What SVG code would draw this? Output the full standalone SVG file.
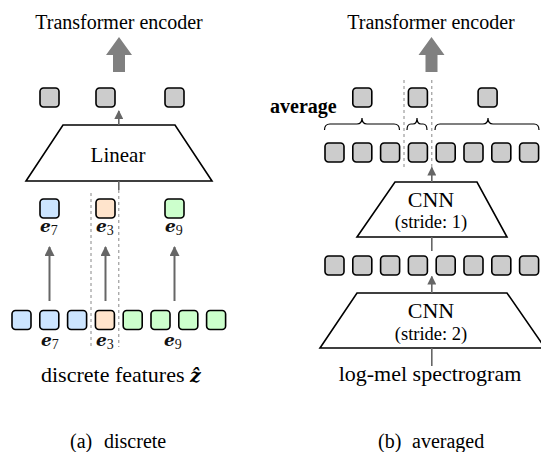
<svg xmlns="http://www.w3.org/2000/svg" width="541" height="452" viewBox="0 0 541 452">
<defs>
<style>
.sq{stroke:#000;stroke-width:1.6}
.g{fill:#cccccc}.b{fill:#cce5ff}.o{fill:#ffe4cc}.gr{fill:#ccffcc}
.t{font-family:"Liberation Serif","Times New Roman",serif;fill:#000}
.e{font-family:"DejaVu Serif",serif;font-weight:bold;font-style:italic;font-size:17px;fill:#111}
.sub{font-family:"Liberation Serif",serif;font-weight:normal;font-style:normal;font-size:14px}
.trap{fill:#fff;stroke:#000;stroke-width:1.6}
.ln{stroke:#666;stroke-width:2;fill:none}
.ln1{stroke:#666;stroke-width:1.6;fill:none}
.dash{stroke:#888;stroke-width:1;stroke-dasharray:3,3;fill:none}
.brace{stroke:#000;stroke-width:1.2;fill:none}
.big{fill:#808080}
</style>
<marker id="ah" markerWidth="10" markerHeight="10" viewBox="0 0 10 10" refX="9" refY="5" orient="auto" markerUnits="userSpaceOnUse">
<path d="M0,0 L10,5 L0,10 z" fill="#666"/>
</marker>
<marker id="ahs" markerWidth="9" markerHeight="9" viewBox="0 0 10 10" refX="9" refY="5" orient="auto" markerUnits="userSpaceOnUse">
<path d="M0,0 L10,5 L0,10 z" fill="#666"/>
</marker>
<rect id="s" width="19" height="19" rx="3.5"/>
</defs>

<!-- ===== Left panel (a) ===== -->
<text class="t" x="119" y="29" font-size="20" text-anchor="middle">Transformer encoder</text>
<polygon class="big" points="119,37 132,55 125,55 125,72 113,72 113,55 106,55"/>

<g id="a-top">
<use href="#s" class="sq g" x="40" y="88"/>
<use href="#s" class="sq g" x="96" y="88"/>
<use href="#s" class="sq g" x="165" y="88"/>
</g>

<g id="a-linear">
<polygon class="trap" points="63,125 175,125 212,181 26,181"/>
<text class="t" x="118" y="162" font-size="21" text-anchor="middle">Linear</text>
</g>

<g id="a-mid">
<use href="#s" class="sq b" x="40" y="199"/>
<use href="#s" class="sq o" x="96" y="199"/>
<use href="#s" class="sq gr" x="165" y="199"/>
<text class="e" x="40" y="232">e<tspan class="sub" dy="3">7</tspan></text>
<text class="e" x="96" y="232">e<tspan class="sub" dy="3">3</tspan></text>
<text class="e" x="165" y="232">e<tspan class="sub" dy="3">9</tspan></text>
</g>

<g id="a-bottom">
<use href="#s" class="sq b" x="12" y="310.5"/>
<use href="#s" class="sq b" x="39.8" y="310.5"/>
<use href="#s" class="sq b" x="67.6" y="310.5"/>
<use href="#s" class="sq o" x="95.4" y="310.5"/>
<use href="#s" class="sq gr" x="123.2" y="310.5"/>
<use href="#s" class="sq gr" x="151" y="310.5"/>
<use href="#s" class="sq gr" x="178.8" y="310.5"/>
<use href="#s" class="sq gr" x="206.6" y="310.5"/>
<text class="e" x="41" y="346">e<tspan class="sub" dy="3">7</tspan></text>
<text class="e" x="96" y="346">e<tspan class="sub" dy="3">3</tspan></text>
<text class="e" x="164" y="346">e<tspan class="sub" dy="3">9</tspan></text>
</g>

<g id="a-label">
<text class="t" x="41" y="382" font-size="22">discrete features <tspan font-family="DejaVu Serif" font-weight="bold" font-style="italic" font-size="19">ẑ</tspan></text>
</g>
<text class="t" x="70" y="448" font-size="20">(a)</text>
<text class="t" x="104" y="448" font-size="20">discrete</text>

<g id="a-connectors">
<line class="dash" x1="91" y1="193" x2="91" y2="347"/>
<line class="dash" x1="118.8" y1="190" x2="118.8" y2="347"/>
<line class="ln1" x1="118.8" y1="181" x2="118.8" y2="190"/>
<line class="ln1" x1="118.8" y1="125" x2="118.8" y2="111" marker-end="url(#ahs)"/>
<line class="ln" x1="49.5" y1="301" x2="49.5" y2="247" marker-end="url(#ah)"/>
<line class="ln" x1="105.5" y1="301" x2="105.5" y2="247" marker-end="url(#ah)"/>
<line class="ln" x1="174.5" y1="301" x2="174.5" y2="247" marker-end="url(#ah)"/>
</g>

<!-- ===== Right panel (b) ===== -->
<text class="t" x="431" y="29" font-size="20" text-anchor="middle">Transformer encoder</text>
<polygon class="big" points="431.5,37 444.5,55 437.5,55 437.5,72 425.5,72 425.5,55 418.5,55"/>

<g id="b-top">
<text class="t" x="270" y="113" font-size="20" font-weight="bold">average</text>
<use href="#s" class="sq g" x="352.8" y="88"/>
<use href="#s" class="sq g" x="408.4" y="88"/>
<use href="#s" class="sq g" x="478.1" y="88"/>
</g>

<g id="b-braces">
<path class="brace" d="M324.5,130 Q324.5,124 330,124 L357,124 Q362,124 362,118 Q362,124 367,124 L394,124 Q399.5,124 399.5,130"/>
<path class="brace" d="M407,130 Q407,124 411,124 L413,124 Q417,124 417,118 Q417,124 421,124 L423,124 Q427,124 427,130"/>
<path class="brace" d="M435,130 Q435,124 440,124 L483,124 Q488,124 488,118 Q488,124 493,124 L534,124 Q539,124 539,130"/>
</g>

<g id="b-row1">
<use href="#s" class="sq g" x="325" y="143"/>
<use href="#s" class="sq g" x="352.8" y="143"/>
<use href="#s" class="sq g" x="380.6" y="143"/>
<use href="#s" class="sq g" x="408.4" y="143"/>
<use href="#s" class="sq g" x="436.2" y="143"/>
<use href="#s" class="sq g" x="464" y="143"/>
<use href="#s" class="sq g" x="491.8" y="143"/>
<use href="#s" class="sq g" x="519.6" y="143"/>
</g>

<g id="b-cnn1">
<polygon class="trap" points="395,182 477,182 507,237 357,237"/>
<text class="t" x="431" y="207" font-size="22" text-anchor="middle">CNN</text>
<text class="t" x="431" y="228" font-size="18.5" text-anchor="middle">(stride: 1)</text>
</g>

<g id="b-row2">
<use href="#s" class="sq g" x="325" y="256"/>
<use href="#s" class="sq g" x="352.8" y="256"/>
<use href="#s" class="sq g" x="380.6" y="256"/>
<use href="#s" class="sq g" x="408.4" y="256"/>
<use href="#s" class="sq g" x="436.2" y="256"/>
<use href="#s" class="sq g" x="464" y="256"/>
<use href="#s" class="sq g" x="491.8" y="256"/>
<use href="#s" class="sq g" x="519.6" y="256"/>
</g>

<g id="b-cnn2">
<polygon class="trap" points="357,293 507,293 545,348 320,348"/>
<text class="t" x="431" y="318" font-size="22" text-anchor="middle">CNN</text>
<text class="t" x="431" y="340" font-size="18.5" text-anchor="middle">(stride: 2)</text>
</g>

<g id="b-label">
<text class="t" x="430" y="381" font-size="22" text-anchor="middle">log-mel spectrogram</text>
</g>
<text class="t" x="378" y="448" font-size="20">(b)</text>
<text class="t" x="412" y="448" font-size="20">averaged</text>

<g id="b-connectors">
<line class="dash" x1="404" y1="80" x2="404" y2="167"/>
<line class="dash" x1="431.8" y1="80" x2="431.8" y2="167"/>
<line class="ln1" x1="431.8" y1="182" x2="431.8" y2="167.5" marker-end="url(#ahs)"/>
<line class="ln1" x1="431.8" y1="237" x2="431.8" y2="251"/>
<line class="ln1" x1="431.8" y1="293" x2="431.8" y2="276.5" marker-end="url(#ahs)"/>
<line class="ln1" x1="431.8" y1="348" x2="431.8" y2="366"/>
</g>
</svg>
